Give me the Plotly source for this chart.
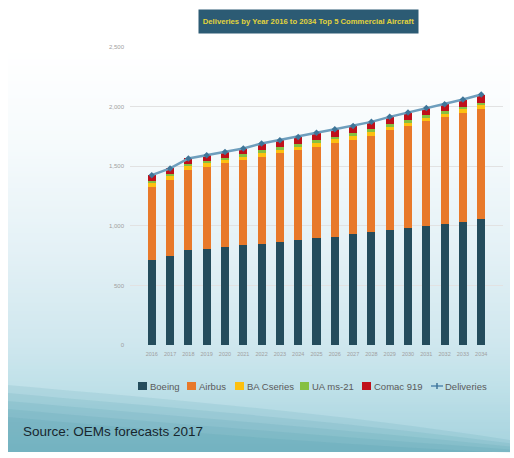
import plotly.graph_objects as go

years = [str(y) for y in range(2016, 2035)]
boeing = [712, 746, 796, 805, 819, 835, 844, 863, 880, 894, 908, 928, 944, 964, 978, 1000, 1017, 1034, 1053]
airbus = [615, 637, 671, 690, 704, 716, 734, 744, 754, 768, 788, 796, 808, 838, 860, 877, 896, 916, 931]
ba_cseries = [35, 35, 33, 32, 30, 30, 32, 30, 30, 32, 30, 30, 32, 28, 28, 28, 26, 26, 28]
ua_ms21 = [18, 18, 18, 18, 18, 18, 22, 22, 22, 24, 22, 22, 24, 22, 22, 22, 20, 20, 22]
comac_919 = [45, 45, 47, 47, 49, 50, 58, 59, 60, 62, 62, 62, 64, 62, 62, 62, 61, 63, 67]
deliveries = [1425, 1481, 1565, 1592, 1620, 1649, 1690, 1718, 1746, 1780, 1810, 1838, 1872, 1914, 1950, 1989, 2020, 2059, 2101]
y_ticks = [0, 500, 1000, 1500, 2000, 2500]

series = [
    ("Boeing", boeing, "#244C5C"),
    ("Airbus", airbus, "#E8792A"),
    ("BA Cseries", ba_cseries, "#FDC010"),
    ("UA ms-21", ua_ms21, "#86C041"),
    ("Comac 919", comac_919, "#C0101A"),
]
line_color = "#6E9EBD"

W, H = 514, 458
L, R, T, B = 130, 503, 47, 345  # plot area in pixels


def px(x):
    return (x - L) / (R - L)


def py(y):
    return (B - y) / (B - T)


FONT = "Liberation Sans, Arial, sans-serif"

fig = go.Figure()
for name, vals, col in series:
    fig.add_trace(go.Bar(x=years, y=vals, name=name, marker=dict(color=col, line=dict(width=0)),
                         showlegend=False))
fig.add_trace(go.Scatter(x=years, y=deliveries, name="Deliveries", mode="lines+markers",
                         line=dict(color=line_color, width=2.5),
                         marker=dict(symbol="diamond", size=5, color="#3F7598"),
                         showlegend=False))

shapes = []
# gradient background (style only)
stops = [(0, (255, 255, 255)), (50, (255, 255, 255)), (150, (245, 250, 252)),
         (250, (228, 241, 246)), (345, (207, 231, 238)), (390, (190, 224, 232)), (452, (165, 210, 222))]


def col_at(y):
    for (y0, c0), (y1, c1) in zip(stops[:-1], stops[1:]):
        if y0 <= y <= y1:
            t = (y - y0) / (y1 - y0)
            return tuple(int(round(a + (b - a) * t)) for a, b in zip(c0, c1))
    return stops[-1][1]


step = 3
for y0 in range(0, 452, step):
    y1 = min(y0 + step, 452)
    c = col_at((y0 + y1) / 2)
    shapes.append(dict(type="rect", xref="paper", yref="paper", layer="below",
                       x0=px(8), x1=px(510), y0=py(y1), y1=py(y0) + 0.0015,
                       fillcolor="rgb(%d,%d,%d)" % c, line=dict(width=0)))
# soft darker teal wave bottom-left (layered for a diffuse edge)
for k, off in enumerate([0, 8, 16, 24, 32]):
    shapes.append(dict(type="path", xref="paper", yref="paper", layer="below",
                       path="M %f %f C %f %f %f %f %f %f L %f %f L %f %f Z" % (
                           px(8), py(385 + off), px(150), py(398 + off), px(330), py(412 + off),
                           px(510), py(440 + off * 0.4),
                           px(510), py(452), px(8), py(452)),
                       fillcolor="rgba(62,145,168,0.12)", line=dict(width=0)))

# custom legend (style elements)
leg_y = 386
leg_items = [("Boeing", 138, "#244C5C"), ("Airbus", 187, "#E8792A"), ("BA Cseries", 235, "#FDC010"),
             ("UA ms-21", 300, "#86C041"), ("Comac 919", 362, "#C0101A")]
annotations = []
for name, x0, col in leg_items:
    shapes.append(dict(type="rect", xref="paper", yref="paper", x0=px(x0), x1=px(x0 + 9),
                       y0=py(leg_y + 4), y1=py(leg_y - 4), fillcolor=col, line=dict(width=0)))
    annotations.append(dict(text=name, xref="paper", yref="paper", x=px(x0 + 9.5), y=py(leg_y),
                            xanchor="left", yanchor="middle", showarrow=False,
                            font=dict(family=FONT, size=9.5, color="#5A5A5A")))
shapes.append(dict(type="line", xref="paper", yref="paper", x0=px(431), x1=px(443),
                   y0=py(leg_y), y1=py(leg_y), line=dict(color=line_color, width=2)))
shapes.append(dict(type="line", xref="paper", yref="paper", x0=px(437), x1=px(437),
                   y0=py(leg_y + 3), y1=py(leg_y - 3), line=dict(color="#3F7598", width=1.5)))
annotations.append(dict(text="Deliveries", xref="paper", yref="paper", x=px(443), y=py(leg_y),
                        xanchor="left", yanchor="middle", showarrow=False,
                        font=dict(family=FONT, size=9.5, color="#5A5A5A")))

# title box
annotations.append(dict(text="<b>Deliveries by Year 2016 to 2034 Top 5 Commercial Aircraft</b>",
                        xref="paper", yref="paper", x=px(308.5), y=py(21.5),
                        xanchor="center", yanchor="middle", showarrow=False,
                        width=215, height=19, bgcolor="#2C5B74", borderpad=2,
                        font=dict(family=FONT, size=7.7, color="#E2D33C")))
# source
annotations.append(dict(text="Source: OEMs forecasts 2017", xref="paper", yref="paper",
                        x=px(21), y=py(431), xanchor="left", yanchor="middle", showarrow=False,
                        font=dict(family=FONT, size=13.5, color="#17262E")))

fig.update_layout(
    width=W, height=H,
    margin=dict(l=L, r=W - R, t=T, b=H - B, pad=0),
    paper_bgcolor="white", plot_bgcolor="rgba(0,0,0,0)",
    barmode="stack", bargap=0.56,
    showlegend=False,
    shapes=shapes, annotations=annotations,
    xaxis=dict(type="category", showgrid=False, zeroline=False, showline=False,
               tickfont=dict(family=FONT, size=5.5, color="#A0A0A0"), ticks="",
               tickangle=0, ticklen=0, ticklabelstandoff=4),
    yaxis=dict(range=[0, 2500], tickvals=y_ticks, tickformat=",d",
               showgrid=True, gridcolor="#E2E2E2", gridwidth=1, zeroline=False, showline=False,
               tickfont=dict(family=FONT, size=6, color="#A0A0A0"), ticks="",
               ticklabelstandoff=5),
    font=dict(family=FONT),
)

fig.write_html("out.html")
